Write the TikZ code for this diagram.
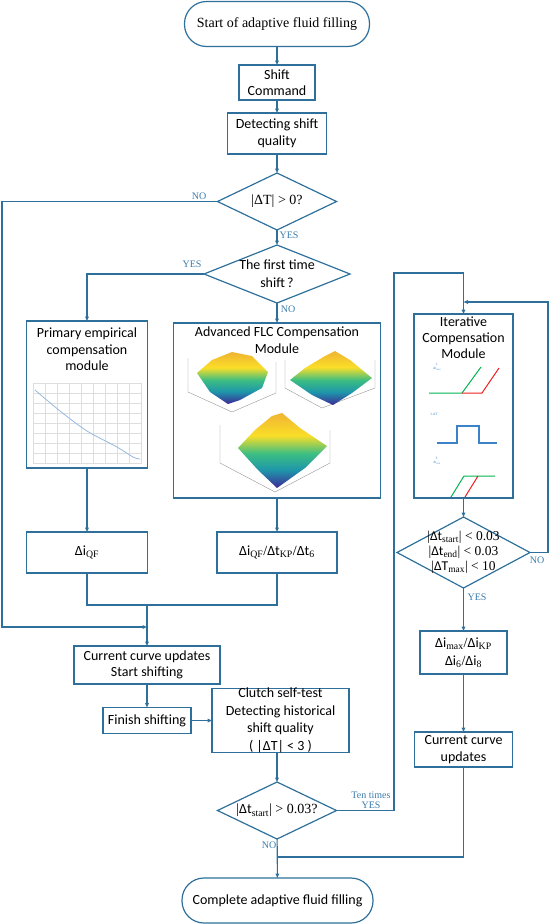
\documentclass[tikz,border=0pt]{standalone}
\usepackage{fontspec}
\setmainfont{Liberation Serif}
\newfontfamily\calfont{Carlito}
\usepackage{xcolor}
\usetikzlibrary{arrows.meta, positioning, shapes.geometric}

\definecolor{flowblue}{RGB}{46,112,155}
\definecolor{lblblue}{RGB}{58,124,172}
\definecolor{gridgray}{RGB}{222,222,222}
\definecolor{curveblue}{RGB}{150,186,222}
\definecolor{surfyellow}{RGB}{250,222,40}
\definecolor{surforange}{RGB}{240,180,50}
\definecolor{surfgreen}{RGB}{60,190,130}
\definecolor{surfteal}{RGB}{30,150,170}
\definecolor{surfblue}{RGB}{62,40,150}
\definecolor{ictgreen}{RGB}{0,180,80}
\definecolor{ictred}{RGB}{240,30,30}
\definecolor{ictblue}{RGB}{60,130,200}

\pgfdeclareverticalshading{surfshade}{100bp}{color(0bp)=(surfblue); color(25bp)=(surfblue); color(37bp)=(surfteal); color(48bp)=(surfgreen); color(60bp)=(surfyellow); color(75bp)=(surforange); color(100bp)=(surforange)}

\newcommand{\dsub}[2]{{\calfont Δ#1}\textsubscript{#2}}

\begin{document}
\begin{tikzpicture}[
    x=1pt, y=-1pt,
    line/.style={draw=flowblue, line width=1.1pt},
    arr/.style={line, -{Triangle[length=4.5pt, width=3.6pt]}},
    box/.style={draw=flowblue, line width=1.2pt, outer sep=0pt, inner sep=1pt,
                align=center, text=black, font=\calfont\fontsize{14}{16.5}\selectfont},
    term/.style={box, rounded corners=22pt, minimum height=45pt},
    mathbox/.style={box, font=\rmfamily\fontsize{14}{18}\selectfont},
    boxtext/.style={align=center, inner sep=1pt, font=\calfont\fontsize{14}{16.5}\selectfont},
    dia/.style={diamond, draw=flowblue, line width=1.2pt, outer sep=0pt, inner sep=0pt},
    diatext/.style={align=center, inner sep=0pt, font=\rmfamily\fontsize{14}{15}\selectfont},
    yn/.style={text=lblblue, inner sep=0pt, align=center, font=\rmfamily\fontsize{10}{10.5}\selectfont},
    tinylbl/.style={text=ictblue, inner sep=0pt, align=center, font=\rmfamily\fontsize{3.5}{4}\selectfont},
    surf/.style={shading=surfshade},
    frame3d/.style={draw=black!45, line width=0.35pt},
  ]
  \useasboundingbox (0,0) rectangle (550,924);

  % main column
  \node[term, font=\rmfamily\fontsize{14}{16}\selectfont, minimum width=185pt] (start) at (277,24) {Start of adaptive fluid filling};
  \node[box, minimum width=76pt, minimum height=35pt, below=18.5pt of start] (cmd) {Shift\\Command};
  \node[box, minimum width=99pt, minimum height=41pt, below=13pt of cmd] (detect) {Detecting shift\\quality};
  \node[dia, minimum width=119pt, minimum height=57pt, below=19pt of detect] (dtcheck) {};
  \node[diatext] (dtcheckt) at (dtcheck) {|ΔT| > 0?};
  \node[dia, minimum width=146pt, minimum height=58pt, below=15pt of dtcheck] (first) {};
  \node[boxtext, font=\calfont\fontsize{14}{18}\selectfont] (firstt) at (first) {The first time\\shift\,?};
  \node[box, minimum width=207pt, minimum height=175pt, below=20pt of first] (flc) {};
  \node[boxtext, below=3pt of flc.north] (flct) {Advanced FLC Compensation\\Module};
  \node[mathbox, minimum width=120pt, minimum height=41pt, below=34pt of flc] (flcout) {\dsub{i}{QF}/\dsub{t}{KP}/\dsub{t}{6}};

  % left column
  \node[box, minimum width=121pt, minimum height=147pt] (prim) at (87,394.5) {};
  \node[boxtext, below=6pt of prim.north] (primt) {Primary empirical\\compensation\\module};
  \node[mathbox, minimum width=121pt, minimum height=41pt, below=64pt of prim] (primout) {\dsub{i}{QF}};
  \node[box, minimum width=146pt, minimum height=38pt] (update) at (147,665) {Current curve updates\\Start shifting};
  \node[box, minimum width=88pt, minimum height=26pt, below=23.5pt of update] (finish) {Finish shifting};
  \node[box, minimum width=137pt, minimum height=64pt, right=21pt of finish] (clutch) {};
  \node[boxtext, font=\calfont\fontsize{14}{17.5}\selectfont] (clutcht) at (clutch) {Clutch self-test\\Detecting historical\\shift quality\\( |ΔT| < 3 )};
  \node[dia, minimum width=119pt, minimum height=57pt] (tscheck) at (277,810.5) {};
  \node[diatext] (tscheckt) at (tscheck) {|\dsub{t}{start}| > 0.03?};
  \node[term, minimum width=191pt] (done) at (277.5,900.5) {Complete adaptive fluid filling};

  % right column
  \node[box, minimum width=99pt, minimum height=184pt] (iter) at (463.5,406) {};
  \node[boxtext, font=\calfont\fontsize{14}{16}\selectfont, below=2pt of iter.north] (itert) {Iterative\\Compensation\\Module};
  \node[dia, minimum width=133pt, minimum height=71pt, below=19pt of iter] (itcheck) {};
  \node[diatext, font=\rmfamily\fontsize{13.5}{15}\selectfont] (itcheckt) at (itcheck) {|\dsub{t}{start}| < 0.03\\|\dsub{t}{end}| < 0.03\\|\dsub{T}{max}| < 10};
  \node[mathbox, minimum width=87pt, minimum height=43pt, below=43pt of itcheck] (itout) {\dsub{i}{max}/\dsub{i}{KP}\\\dsub{i}{6}/\dsub{i}{8}};
  \node[box, minimum width=98pt, minimum height=35pt, below=58pt of itout] (itupdate) {Current curve\\updates};

  % primary module curve
  \draw[gridgray, fill=white, line width=0.5pt] (33,383) rectangle (141,463);
  \foreach \gx in {45,57,...,129} \draw[gridgray, line width=0.3pt] (\gx,383) -- (\gx,463);
  \foreach \gy in {393,403,...,453} \draw[gridgray, line width=0.3pt] (33,\gy) -- (141,\gy);
  \draw[curveblue, line width=0.8pt] plot[smooth] coordinates {(35,390) (60,411) (87,431) (117,447) (133,457) (140,459)};

  % FLC surfaces
  \draw[frame3d] (188,358) -- (188,392) -- (232,412) -- (276,393) -- (276,362);
  \shade[surf] (197,373) -- (212,360) -- (232,352) -- (252,356) -- (268,372) -- (262,388) -- (240,400) -- (228,404) -- (210,392) -- cycle;
  \draw[frame3d] (285,360) -- (285,388) -- (322,408) -- (375,388) -- (375,360);
  \shade[surf] (290,380) -- (305,368) -- (325,356) -- (335,351) -- (350,360) -- (372,378) -- (352,393) -- (333,405) -- (312,395) -- cycle;
  \draw[frame3d] (220,425) -- (220,463) -- (275,492) -- (330,463) -- (330,430);
  \shade[surf] (238,448) -- (255,430) -- (272,416) -- (282,413) -- (300,428) -- (327,446) -- (305,468) -- (277,488) -- (258,470) -- cycle;

  % iterative module sketches
  \node[tinylbl] (lbla) at (437,367) {1.\\Δt\textsubscript{start}};
  \draw[ictgreen, line width=1pt] (429,393) -- (462,393) -- (481,367);
  \draw[ictred, line width=1pt] (462,393) -- (482,393) -- (499,368);
  \node[tinylbl] (lblb) at (434,414) {2.ΔT};
  \draw[ictblue, line width=1.1pt] (437,443) -- (457,443) -- (457,426) -- (479,426) -- (479,443) -- (497,443);
  \node[tinylbl] (lblc) at (437,461) {3.\\Δt\textsubscript{end}};
  \draw[ictgreen, line width=1pt] (451,497) -- (464,476) -- (495,476);
  \draw[ictred, line width=1pt] (465,497) -- (478,476);

  % helper points
  \coordinate (leftrail) at (2,627);
  \coordinate (mergeL) at (147,605);
  \coordinate (loopx) at (394,273);
  \coordinate (backR) at (548,302);
  \coordinate (mergeB) at (277,857);

  % connectors
  \draw[arr] (start) -- (cmd);
  \draw[arr] (cmd) -- (detect);
  \draw[arr] (detect) -- (dtcheck);
  \draw[arr] (dtcheck) -- (first);
  \draw[arr] (dtcheck.west) -| (leftrail) -- (leftrail -| update.north);
  \draw[arr] (first.west) -| (prim.north);
  \draw[arr] (first) -- (flc);
  \draw[arr] (prim) -- (primout);
  \draw[arr] (flc) -- (flcout);
  \draw[line] (primout.south) |- (mergeL) -| (flcout.south);
  \draw[arr] (mergeL) -- (update.north);
  \draw[arr] (update) -- (finish);
  \draw[arr] (finish) -- (clutch);
  \draw[arr] (clutch.south -| tscheck.north) -- (tscheck.north);
  \draw[arr] (tscheck.east) -| (loopx) -| (iter.north);
  \draw[arr] (iter) -- (itcheck);
  \draw[arr] (itcheck.east) -| (backR) -- (backR -| iter.north);
  \draw[arr] (itcheck) -- (itout);
  \draw[arr] (itout) -- (itupdate);
  \draw[line] (itupdate.south) |- (mergeB);
  \draw[arr] (tscheck) -- (done);

  % branch labels
  \node[yn] (no1) at (199,196) {NO};
  \node[yn] (yes1) at (289,235) {YES};
  \node[yn] (yes2) at (192,264) {YES};
  \node[yn] (no2) at (288,309) {NO};
  \node[yn] (no3) at (537,560) {NO};
  \node[yn] (yes3) at (477,597) {YES};
  \node[yn, font=\rmfamily\fontsize{10}{9.5}\selectfont] (yes4) at (371,800) {Ten times\\YES};
  \node[yn] (no4) at (269,845) {NO};
\end{tikzpicture}
\end{document}
